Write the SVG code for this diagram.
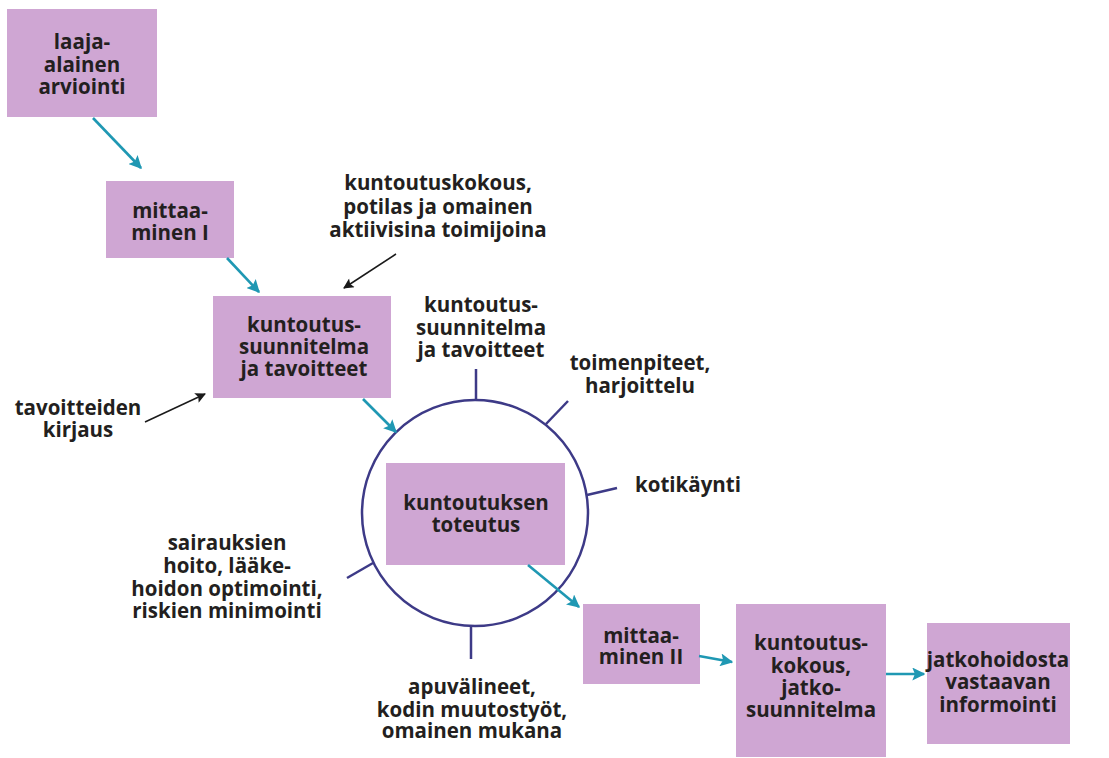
<svg xmlns="http://www.w3.org/2000/svg" width="1109" height="758" viewBox="0 0 1109 758">
<defs>
<style>
.box{fill:#cfa6d3;}
.t{font-family:"Open Sans","Noto Sans",sans-serif;font-weight:700;font-size:20.5px;fill:#231f20;text-anchor:middle;}
.tl{font-family:"Open Sans","Noto Sans",sans-serif;font-weight:700;font-size:20.5px;fill:#231f20;text-anchor:middle;}
.teal{stroke:#1f98b3;stroke-width:2.6;fill:none;marker-end:url(#ah);}
.blk{stroke:#1a1a1a;stroke-width:1.5;fill:none;marker-end:url(#ab);}
.spoke{stroke:#3d3a87;stroke-width:2.5;fill:none;}
</style>
<marker id="ah" viewBox="0 0 10 10" refX="9" refY="5" markerWidth="5" markerHeight="5" orient="auto" markerUnits="strokeWidth">
<path d="M0,0 L10,5 L0,10 L2,5 Z" fill="#1f98b3"/>
</marker>
<marker id="ab" viewBox="0 0 10 10" refX="9" refY="5" markerWidth="8" markerHeight="7" orient="auto" markerUnits="strokeWidth">
<path d="M0,0 L10,5 L0,10 L2,5 Z" fill="#1a1a1a"/>
</marker>
</defs>
<rect width="1109" height="758" fill="#ffffff"/>

<g id="cycle">
<circle cx="475" cy="513" r="113" fill="none" stroke="#3d3a87" stroke-width="2.5"/>
<line class="spoke" x1="476" y1="369" x2="476" y2="400"/>
<line class="spoke" x1="568" y1="401" x2="546" y2="424"/>
<line class="spoke" x1="617" y1="488" x2="587" y2="495"/>
<line class="spoke" x1="347" y1="578" x2="373" y2="563"/>
<line class="spoke" x1="471" y1="626" x2="471" y2="659"/>
</g>

<g id="n1">
<rect class="box" x="7" y="9" width="150" height="108"/>
<text class="t" x="82" y="49">laaja-</text>
<text class="t" x="82" y="72">alainen</text>
<text class="t" x="82" y="94">arviointi</text>
</g>
<g id="n2">
<rect class="box" x="106" y="181" width="128" height="77"/>
<text class="t" x="170" y="218">mittaa-</text>
<text class="t" x="170" y="240">minen I</text>
</g>
<g id="n3">
<rect class="box" x="213" y="296" width="178" height="102"/>
<text class="t" x="304" y="332">kuntoutus-</text>
<text class="t" x="304" y="354">suunnitelma</text>
<text class="t" x="304" y="376">ja tavoitteet</text>
</g>
<g id="n4">
<rect class="box" x="386" y="463" width="179" height="102"/>
<text class="t" x="476" y="510">kuntoutuksen</text>
<text class="t" x="476" y="532">toteutus</text>
</g>
<g id="n5">
<rect class="box" x="583" y="604" width="117" height="80"/>
<text class="t" x="641" y="643">mittaa-</text>
<text class="t" x="641" y="664">minen II</text>
</g>
<g id="n6">
<rect class="box" x="736" y="604" width="150" height="153"/>
<text class="t" x="811" y="650">kuntoutus-</text>
<text class="t" x="811" y="673">kokous,</text>
<text class="t" x="811" y="695">jatko-</text>
<text class="t" x="811" y="717">suunnitelma</text>
</g>
<g id="n7">
<rect class="box" x="927" y="623" width="143" height="121"/>
<text class="t" x="998" y="667">jatkohoidosta</text>
<text class="t" x="998" y="689">vastaavan</text>
<text class="t" x="998" y="712">informointi</text>
</g>

<g id="labels">
<g id="l-kokous">
<text class="tl" x="438" y="190">kuntoutuskokous,</text>
<text class="tl" x="438" y="214">potilas ja omainen</text>
<text class="tl" x="438" y="237">aktiivisina toimijoina</text>
</g>
<g id="l-tavoitteiden">
<text class="tl" x="78" y="415">tavoitteiden</text>
<text class="tl" x="78" y="437">kirjaus</text>
</g>
<g id="l-suunnitelma">
<text class="tl" x="481" y="312">kuntoutus-</text>
<text class="tl" x="481" y="335">suunnitelma</text>
<text class="tl" x="481" y="357">ja tavoitteet</text>
</g>
<g id="l-toimenpiteet">
<text class="tl" x="640" y="370">toimenpiteet,</text>
<text class="tl" x="640" y="393">harjoittelu</text>
</g>
<g id="l-kotikaynti">
<text class="tl" x="688" y="492">kotikäynti</text>
</g>
<g id="l-sairauksien">
<text class="tl" x="227" y="550">sairauksien</text>
<text class="tl" x="227" y="573">hoito, lääke-</text>
<text class="tl" x="227" y="596">hoidon optimointi,</text>
<text class="tl" x="227" y="618">riskien minimointi</text>
</g>
<g id="l-apuvalineet">
<text class="tl" x="472" y="694">apuvälineet,</text>
<text class="tl" x="472" y="717">kodin muutostyöt,</text>
<text class="tl" x="472" y="738">omainen mukana</text>
</g>
</g>

<g id="connectors">
<line class="teal" x1="93" y1="118" x2="141" y2="168"/>
<line class="teal" x1="227" y1="258" x2="259" y2="292"/>
<line class="teal" x1="363" y1="399" x2="396" y2="432"/>
<line class="teal" x1="528" y1="565" x2="579" y2="607"/>
<line class="teal" x1="699" y1="656" x2="732" y2="662"/>
<line class="teal" x1="886" y1="674" x2="924" y2="674"/>
<line class="blk" x1="396" y1="254" x2="344" y2="288"/>
<line class="blk" x1="145" y1="422" x2="205" y2="394"/>
</g>
</svg>
